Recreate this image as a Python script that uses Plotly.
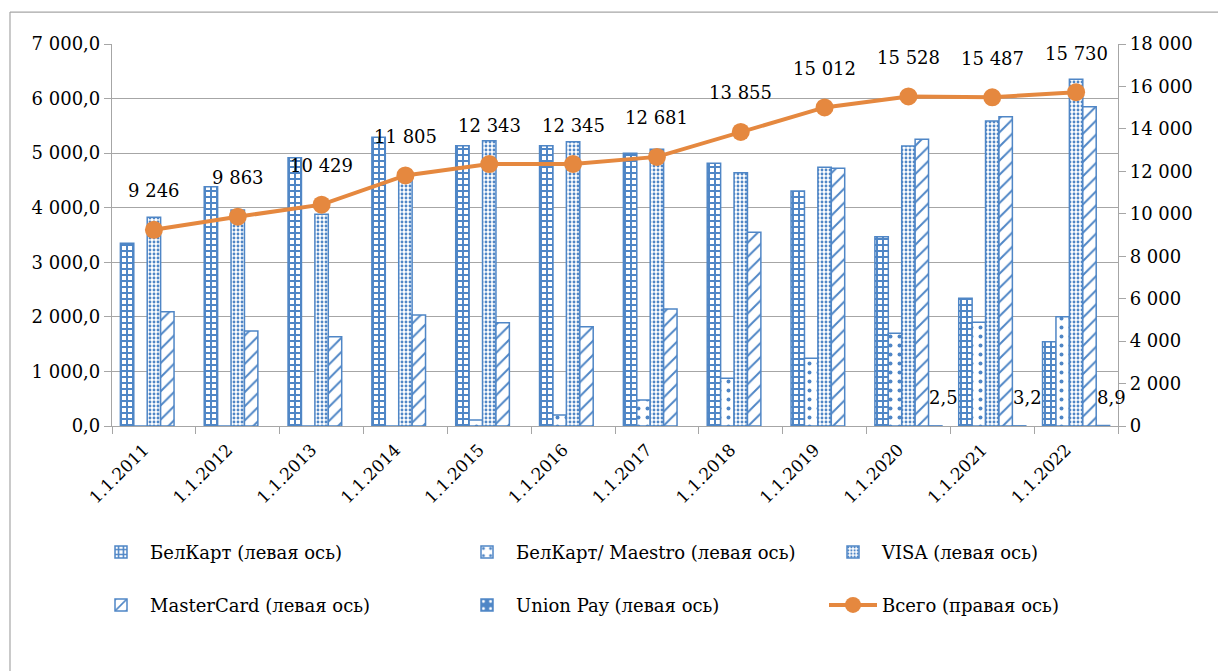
import plotly.graph_objects as go

categories = ["1.1.2011", "1.1.2012", "1.1.2013", "1.1.2014", "1.1.2015", "1.1.2016",
              "1.1.2017", "1.1.2018", "1.1.2019", "1.1.2020", "1.1.2021", "1.1.2022"]
belkart = [3350, 4385, 4917, 5290, 5137, 5136, 4997, 4813, 4306, 3469, 2340, 1545]
belkart_maestro = [0, 0, 0, 0, 110, 202, 476, 873, 1240, 1698, 1900, 2003]
visa = [3824, 3960, 3879, 4560, 5228, 5209, 5070, 4642, 4740, 5131, 5589, 6353]
mastercard = [2095, 1741, 1637, 2034, 1893, 1820, 2144, 3549, 4722, 5253, 5668, 5851]
union_pay = [None, None, None, None, None, None, None, None, None, 2.5, 3.2, 8.9]
total = [9246, 9863, 10429, 11805, 12343, 12345, 12681, 13855, 15012, 15528, 15487, 15730]

names = ["БелКарт (левая ось)", "БелКарт/ Maestro (левая ось)", "VISA (левая ось)",
         "MasterCard (левая ось)", "Union Pay (левая ось)", "Всего (правая ось)"]

BLUE = "#4F86C6"
ORANGE = "#E5883F"
FONT = "DejaVu Serif"
OFF = 8  # page body margin in the browser
W, H = 1226 - OFF, 671 - OFF
ML, MR, MT, MB = 112 - OFF, 108, 44 - OFF, 244.5

fig = go.Figure()

def bar(y, name, shape, size, solidity, fg=BLUE, bg="white", legend="legend"):
    fig.add_trace(go.Bar(
        x=categories, y=y, name=name, legend=legend,
        marker=dict(color=bg, line=dict(color=BLUE, width=1.5),
                    pattern=dict(shape=shape, fgcolor=fg, bgcolor=bg, size=size,
                                 solidity=solidity, fillmode="replace")),
    ))

bar(belkart, names[0], "+", 6, 0.55)
bar(belkart_maestro, names[1], ".", 9, 0.15)
bar(visa, names[2], ".", 4, 0.4)
bar(mastercard, names[3], "/", 10, 0.2, legend="legend2")
bar(union_pay, names[4], ".", 9, 0.15, fg="white", bg=BLUE, legend="legend2")

fig.add_trace(go.Scatter(
    x=categories, y=total, name=names[5], yaxis="y2", mode="lines+markers",
    line=dict(color=ORANGE, width=4), marker=dict(color=ORANGE, size=18),
    legend="legend2",
))

annotations = []
for c, v in zip(categories, total):
    annotations.append(dict(x=c, y=v, xref="x", yref="y2", text=f"{v:,}".replace(",", " "),
                            showarrow=False, yshift=39, font=dict(family=FONT, size=18, color="black")))
for c, v in zip(categories, union_pay):
    if v is not None:
        annotations.append(dict(x=c, y=v, xref="x", yref="y", text=str(v).replace(".", ","),
                                showarrow=False, xshift=35, yshift=28,
                                font=dict(family=FONT, size=18, color="black")))

pw = W - ML - MR
ph = H - MT - MB
def px_x(p):
    return (p - OFF - ML) / pw
def px_y(p):
    return (H - MB - (p - OFF)) / ph

shapes = [
    dict(type="line", xref="paper", yref="paper", x0=px_x(10), x1=px_x(1240), y0=px_y(12), y1=px_y(12),
         line=dict(color="#A6A6A6", width=1.2)),
    dict(type="line", xref="paper", yref="paper", x0=px_x(10), x1=px_x(10), y0=px_y(12), y1=px_y(690),
         line=dict(color="#A6A6A6", width=1.2)),
]

legend_common = dict(orientation="h", xanchor="left", yanchor="middle",
                     font=dict(family=FONT, size=18, color="black"),
                     entrywidth=303, entrywidthmode="pixels", itemwidth=48,
                     bgcolor="rgba(0,0,0,0)")

fig.update_layout(
    width=W, height=H, margin=dict(l=ML, r=MR, t=MT, b=MB, autoexpand=False),
    paper_bgcolor="white", plot_bgcolor="white",
    separators=", ",
    barmode="group", bargap=0.2, bargroupgap=0,
    font=dict(family=FONT, size=17, color="black"),
    xaxis=dict(type="category", range=[-0.5, len(categories) - 0.5], autorange=False,
               tickangle=-45, showline=True, linecolor="#A6A6A6", linewidth=1.2,
               ticks="outside", tickson="boundaries", ticklen=7, tickcolor="#A6A6A6",
               ticklabelshift=-10, ticklabelstandoff=6,
               tickfont=dict(family=FONT, size=17), showgrid=False),
    yaxis=dict(range=[0, 7000], dtick=1000, tickformat=",.1f", showgrid=True,
               gridcolor="#A6A6A6", gridwidth=1.2, zeroline=False, showline=True,
               linecolor="#A6A6A6", linewidth=1.2, ticks="outside", ticklen=7, tickcolor="#A6A6A6",
               tickfont=dict(family=FONT, size=18)),
    yaxis2=dict(range=[0, 18000], dtick=2000, tickformat=",d", overlaying="y", side="right",
                showgrid=False, zeroline=False, showline=True, linecolor="#A6A6A6", linewidth=1.2,
                ticks="outside", ticklen=7, tickcolor="#A6A6A6", tickfont=dict(family=FONT, size=18)),
    legend=dict(x=px_x(92), y=px_y(553), **legend_common),
    legend2=dict(x=px_x(92), y=px_y(606), **legend_common),
    annotations=annotations,
    shapes=shapes,
)

fig.write_html("out.html")
